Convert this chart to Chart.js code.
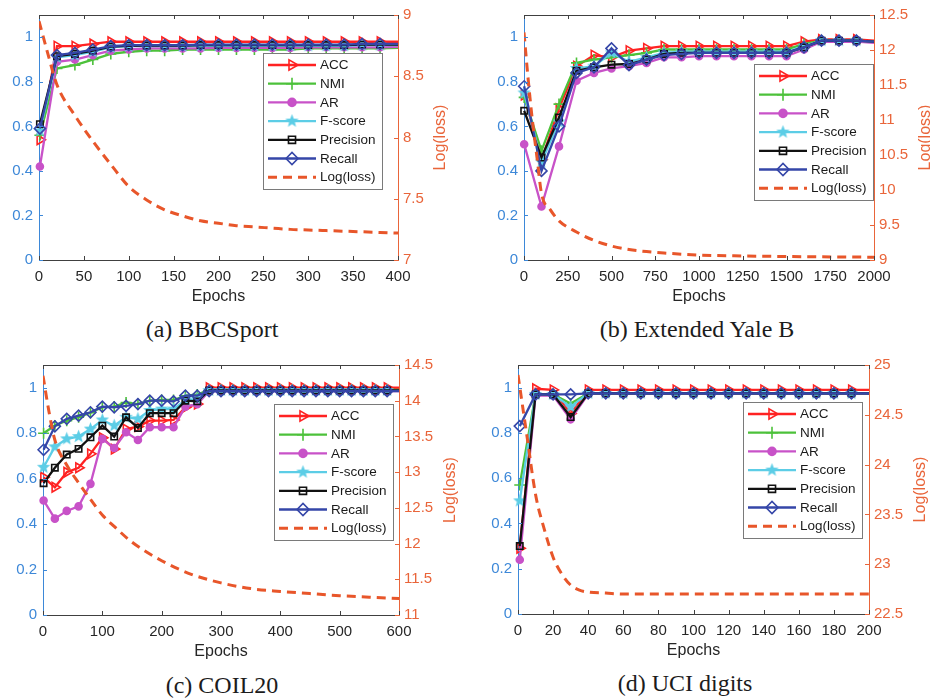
<!DOCTYPE html>
<html>
<head>
<meta charset="utf-8">
<script src="https://cdn.jsdelivr.net/npm/chart.js@4.4.1/dist/chart.umd.min.js"></script>
<style>
  html, body { margin: 0; padding: 0; background: #fff; }
  body { width: 930px; height: 700px; position: relative; overflow: hidden; }
  canvas { position: absolute; }
  .cap {
    position: absolute; white-space: nowrap; transform: translateX(-50%);
    font-family: "Liberation Serif", "Times New Roman", serif; font-size: 24px;
    line-height: 28px; color: #1c1c1c;
  }
</style>
</head>
<body>
<canvas id="chartA" width="465" height="312" style="left:0px;top:0px"></canvas>
<canvas id="chartB" width="465" height="312" style="left:465px;top:0px"></canvas>
<canvas id="chartC" width="465" height="312" style="left:0px;top:350px"></canvas>
<canvas id="chartD" width="465" height="312" style="left:465px;top:350px"></canvas>
<div class="cap" style="left:212px;top:315px">(a) BBCSport</div>
<div class="cap" style="left:697px;top:315px">(b) Extended Yale B</div>
<div class="cap" style="left:222px;top:671px">(c) COIL20</div>
<div class="cap" style="left:685px;top:669px">(d) UCI digits</div>
<script>
const seriesNames = ['ACC', 'NMI', 'AR', 'F-score', 'Precision', 'Recall'];
const lossName = 'Log(loss)';
const xTitle = 'Epochs';
const leftTicks = [0, 0.2, 0.4, 0.6, 0.8, 1];

// (a) BBCSport
const epochsA = [1, 20, 40, 60, 80, 100, 120, 140, 160, 180, 200, 220, 240, 260, 280, 300, 320, 340, 360, 380, 400];
const accA  = [0.54, 0.96, 0.96, 0.97, 0.98, 0.98, 0.98, 0.98, 0.98, 0.98, 0.98, 0.98, 0.98, 0.98, 0.98, 0.98, 0.98, 0.98, 0.98, 0.98, 0.98];
const nmiA  = [0.56, 0.86, 0.875, 0.9, 0.925, 0.935, 0.94, 0.94, 0.945, 0.945, 0.945, 0.945, 0.945, 0.945, 0.945, 0.95, 0.95, 0.95, 0.95, 0.95, 0.952];
const arA   = [0.42, 0.89, 0.9, 0.92, 0.94, 0.945, 0.95, 0.95, 0.95, 0.95, 0.952, 0.952, 0.952, 0.952, 0.952, 0.955, 0.955, 0.955, 0.955, 0.955, 0.957];
const fA    = [0.58, 0.91, 0.92, 0.935, 0.955, 0.96, 0.96, 0.96, 0.96, 0.962, 0.962, 0.962, 0.962, 0.962, 0.962, 0.962, 0.962, 0.962, 0.965, 0.965, 0.965];
const precA = [0.61, 0.915, 0.925, 0.94, 0.958, 0.962, 0.963, 0.963, 0.963, 0.965, 0.965, 0.965, 0.965, 0.965, 0.965, 0.965, 0.965, 0.965, 0.967, 0.967, 0.967];
const recA  = [0.59, 0.92, 0.93, 0.945, 0.96, 0.965, 0.965, 0.965, 0.965, 0.967, 0.967, 0.967, 0.967, 0.967, 0.967, 0.967, 0.967, 0.967, 0.97, 0.97, 0.97];
const lossEpochsA = [0, 10, 20, 40, 60, 80, 100, 120, 140, 160, 180, 200, 220, 240, 260, 280, 300, 320, 340, 360, 380, 400];
const lossA = [8.95, 8.68, 8.43, 8.18, 7.97, 7.78, 7.6, 7.49, 7.41, 7.36, 7.32, 7.3, 7.28, 7.27, 7.26, 7.25, 7.245, 7.24, 7.235, 7.23, 7.225, 7.22];
const xTicksA = [0, 50, 100, 150, 200, 250, 300, 350, 400];
const rightTicksA = [7, 7.5, 8, 8.5, 9];

// (b) Extended Yale B
const epochsB = [1, 100, 200, 300, 400, 500, 600, 700, 800, 900, 1000, 1100, 1200, 1300, 1400, 1500, 1600, 1700, 1800, 1900, 2000];
const accB  = [0.74, 0.45, 0.68, 0.87, 0.92, 0.91, 0.94, 0.95, 0.96, 0.96, 0.96, 0.96, 0.96, 0.96, 0.96, 0.96, 0.98, 0.99, 0.99, 0.99, 0.985];
const nmiB  = [0.73, 0.49, 0.7, 0.885, 0.9, 0.91, 0.92, 0.93, 0.945, 0.945, 0.945, 0.945, 0.945, 0.945, 0.945, 0.945, 0.97, 0.985, 0.985, 0.985, 0.98];
const arB   = [0.52, 0.24, 0.51, 0.805, 0.84, 0.86, 0.87, 0.885, 0.91, 0.91, 0.915, 0.915, 0.915, 0.915, 0.915, 0.915, 0.945, 0.98, 0.98, 0.98, 0.975];
const fB    = [0.75, 0.44, 0.62, 0.86, 0.87, 0.93, 0.89, 0.91, 0.93, 0.935, 0.935, 0.935, 0.935, 0.935, 0.935, 0.935, 0.96, 0.985, 0.985, 0.985, 0.98];
const precB = [0.67, 0.46, 0.64, 0.85, 0.865, 0.877, 0.88, 0.9, 0.925, 0.93, 0.93, 0.93, 0.93, 0.93, 0.93, 0.93, 0.955, 0.985, 0.985, 0.985, 0.98];
const recB  = [0.78, 0.4, 0.6, 0.84, 0.865, 0.95, 0.875, 0.9, 0.92, 0.925, 0.93, 0.93, 0.93, 0.93, 0.93, 0.93, 0.955, 0.985, 0.985, 0.985, 0.98];
const lossEpochsB = [0, 25, 50, 75, 100, 150, 200, 300, 400, 500, 600, 700, 800, 1000, 1200, 1500, 2000];
const lossB = [12.25, 11.55, 10.95, 10.45, 9.95, 9.72, 9.56, 9.4, 9.28, 9.2, 9.15, 9.12, 9.1, 9.07, 9.06, 9.05, 9.04];
const xTicksB = [0, 250, 500, 750, 1000, 1250, 1500, 1750, 2000];
const rightTicksB = [9, 9.5, 10, 10.5, 11, 11.5, 12, 12.5];

// (c) COIL20
const epochsC = [1, 20, 40, 60, 80, 100, 120, 140, 160, 180, 200, 220, 240, 260, 280, 300, 320, 340, 360, 380, 400, 420, 440, 460, 480, 500, 520, 540, 560, 580, 600];
const accC  = [0.606, 0.562, 0.628, 0.648, 0.709, 0.78, 0.73, 0.818, 0.829, 0.855, 0.855, 0.858, 0.914, 0.928, 1.0, 1.0, 1.0, 1.0, 1.0, 1.0, 1.0, 1.0, 1.0, 1.0, 1.0, 1.0, 1.0, 1.0, 1.0, 1.0, 1.0];
const nmiC  = [0.8, 0.834, 0.855, 0.87, 0.89, 0.914, 0.917, 0.935, 0.928, 0.943, 0.946, 0.946, 0.965, 0.97, 0.99, 0.99, 0.99, 0.99, 0.99, 0.99, 0.99, 0.99, 0.99, 0.99, 0.99, 0.99, 0.99, 0.99, 0.99, 0.99, 0.99];
const arC   = [0.504, 0.424, 0.458, 0.478, 0.577, 0.775, 0.735, 0.804, 0.77, 0.826, 0.826, 0.826, 0.917, 0.928, 0.985, 0.985, 0.985, 0.985, 0.985, 0.985, 0.985, 0.985, 0.985, 0.985, 0.985, 0.985, 0.985, 0.985, 0.985, 0.985, 0.985];
const fC    = [0.65, 0.74, 0.775, 0.785, 0.818, 0.858, 0.833, 0.87, 0.863, 0.9, 0.906, 0.906, 0.946, 0.95, 0.988, 0.988, 0.988, 0.988, 0.988, 0.988, 0.988, 0.988, 0.988, 0.988, 0.988, 0.988, 0.988, 0.988, 0.988, 0.988, 0.988];
const precC = [0.58, 0.648, 0.706, 0.731, 0.782, 0.833, 0.785, 0.87, 0.823, 0.888, 0.888, 0.888, 0.943, 0.94, 0.988, 0.988, 0.988, 0.988, 0.988, 0.988, 0.988, 0.988, 0.988, 0.988, 0.988, 0.988, 0.988, 0.988, 0.988, 0.988, 0.988];
const recC  = [0.727, 0.83, 0.863, 0.877, 0.892, 0.917, 0.914, 0.92, 0.928, 0.943, 0.943, 0.94, 0.965, 0.965, 0.985, 0.985, 0.985, 0.985, 0.985, 0.985, 0.985, 0.985, 0.985, 0.985, 0.985, 0.985, 0.985, 0.985, 0.985, 0.985, 0.985];
const lossEpochsC = [0, 10, 20, 40, 60, 80, 100, 120, 150, 200, 250, 300, 350, 400, 450, 500, 550, 600];
const lossC = [14.35, 13.85, 13.45, 13.1, 12.85, 12.62, 12.4, 12.24, 12.02, 11.76, 11.57, 11.45, 11.37, 11.33, 11.3, 11.27, 11.25, 11.23];
const xTicksC = [0, 100, 200, 300, 400, 500, 600];
const rightTicksC = [11, 11.5, 12, 12.5, 13, 13.5, 14, 14.5];

// (d) UCI digits
const epochsD = [1, 10, 20, 30, 40, 50, 60, 70, 80, 90, 100, 110, 120, 130, 140, 150, 160, 170, 180, 190, 200];
const accD  = [0.29, 0.995, 0.99, 0.885, 0.99, 0.99, 0.99, 0.99, 0.99, 0.99, 0.99, 0.99, 0.99, 0.99, 0.99, 0.99, 0.99, 0.99, 0.99, 0.99, 0.99];
const nmiD  = [0.57, 0.97, 0.97, 0.93, 0.975, 0.975, 0.975, 0.975, 0.975, 0.975, 0.975, 0.975, 0.975, 0.975, 0.975, 0.975, 0.975, 0.975, 0.975, 0.975, 0.975];
const arD   = [0.24, 0.965, 0.965, 0.86, 0.972, 0.972, 0.972, 0.972, 0.972, 0.972, 0.972, 0.972, 0.972, 0.972, 0.972, 0.972, 0.972, 0.972, 0.972, 0.972, 0.972];
const fD    = [0.5, 0.97, 0.97, 0.915, 0.975, 0.975, 0.975, 0.975, 0.975, 0.975, 0.975, 0.975, 0.975, 0.975, 0.975, 0.975, 0.975, 0.975, 0.975, 0.975, 0.975];
const precD = [0.3, 0.97, 0.97, 0.87, 0.975, 0.975, 0.975, 0.975, 0.975, 0.975, 0.975, 0.975, 0.975, 0.975, 0.975, 0.975, 0.975, 0.975, 0.975, 0.975, 0.975];
const recD  = [0.83, 0.97, 0.97, 0.97, 0.975, 0.975, 0.975, 0.975, 0.975, 0.975, 0.975, 0.975, 0.975, 0.975, 0.975, 0.975, 0.975, 0.975, 0.975, 0.975, 0.975];
const lossEpochsD = [0, 5, 10, 15, 20, 25, 30, 35, 40, 50, 60, 80, 100, 150, 200];
const lossD = [24.9, 24.3, 23.7, 23.35, 23.07, 22.9, 22.79, 22.74, 22.72, 22.71, 22.7, 22.7, 22.7, 22.7, 22.7];
const xTicksD = [0, 20, 40, 60, 80, 100, 120, 140, 160, 180, 200];
const rightTicksD = [22.5, 23, 23.5, 24, 24.5, 25];

// colours and fonts
const FONT = '"Liberation Sans", Arial, sans-serif';
const leftColor = '#3D88D8';
const rightColor = '#E9653A';
const lossColor = '#E8562A';
const frameColor = '#404040';

// filled five-point star for F-score
function makeStar(color) {
  const c = document.createElement('canvas');
  c.width = 15; c.height = 15;
  const g = c.getContext('2d');
  g.beginPath();
  for (let k = 0; k < 10; k++) {
    const r = k % 2 === 0 ? 7 : 3;
    const a = -Math.PI / 2 + k * Math.PI / 5;
    g.lineTo(7.5 + r * Math.cos(a), 7.5 + r * Math.sin(a));
  }
  g.closePath();
  g.fillStyle = color;
  g.fill();
  return c;
}

const styles = [
  { color: '#FF2222', point: 'triangle', rotation: 90, radius: 5.5, filled: false },
  { color: '#4CC13A', point: 'cross', rotation: 0, radius: 5.5, filled: false },
  { color: '#C852C8', point: 'circle', rotation: 0, radius: 3.5, filled: true },
  { color: '#5CCDE6', point: makeStar('#5CCDE6'), rotation: 0, radius: 7, filled: true },
  { color: '#111111', point: 'rect', rotation: 0, radius: 4.5, filled: false },
  { color: '#3546A8', point: 'rectRot', rotation: 0, radius: 5.5, filled: false }
];

// axis frame, inward ticks, titles and legend in the MATLAB look
const matlabAxes = {
  id: 'matlabAxes',
  afterDraw(chart, args, opts) {
    const { ctx, chartArea: a, scales } = chart;
    const seg = (x1, y1, x2, y2) => { ctx.beginPath(); ctx.moveTo(x1, y1); ctx.lineTo(x2, y2); ctx.stroke(); };
    ctx.save();
    ctx.lineWidth = 1;
    ctx.strokeStyle = frameColor;
    seg(a.left, a.top + 0.5, a.right, a.top + 0.5);
    scales.x.ticks.forEach(t => {
      const px = Math.round(scales.x.getPixelForValue(t.value)) + 0.5;
      seg(px, a.bottom, px, a.bottom - 4);
      seg(px, a.top, px, a.top + 4);
    });
    ctx.strokeStyle = leftColor;
    scales.y.ticks.forEach(t => {
      const py = Math.round(scales.y.getPixelForValue(t.value)) + 0.5;
      seg(a.left, py, a.left + 4, py);
    });
    ctx.strokeStyle = rightColor;
    scales.y2.ticks.forEach(t => {
      const py = Math.round(scales.y2.getPixelForValue(t.value)) + 0.5;
      seg(a.right, py, a.right - 4, py);
    });

    // x title
    ctx.fillStyle = '#262626';
    ctx.font = '16px ' + FONT;
    ctx.textAlign = 'center';
    ctx.textBaseline = 'middle';
    ctx.fillText(xTitle, (a.left + a.right) / 2, a.bottom + 37);

    // right title, reading bottom to top
    ctx.font = '15px ' + FONT;
    let maxW = 0;
    scales.y2.ticks.forEach(t => { maxW = Math.max(maxW, ctx.measureText(String(t.value)).width); });
    ctx.save();
    ctx.translate(a.right + 5 + maxW + 17, (a.top + a.bottom) / 2);
    ctx.rotate(-Math.PI / 2);
    ctx.fillStyle = rightColor;
    ctx.font = '16px ' + FONT;
    ctx.fillText(lossName, 0, 0);
    ctx.restore();

    // legend box
    const W = 119, H = 136;
    const bx = Math.round(a.right - opts.right - W);
    const by = Math.round(a.top + opts.top);
    ctx.fillStyle = '#ffffff';
    ctx.fillRect(bx, by, W, H);
    ctx.strokeStyle = '#7a7a7a';
    ctx.strokeRect(bx + 0.5, by + 0.5, W, H);
    chart.data.datasets.forEach((ds, i) => {
      const y = by + 12 + i * 18.7;
      ctx.strokeStyle = ds.borderColor;
      ctx.lineWidth = ds.borderWidth;
      ctx.setLineDash(ds.borderDash || []);
      seg(bx + 5, y, bx + 53, y);
      ctx.setLineDash([]);
      if (ds.legendRadius) {
        ctx.fillStyle = ds.pointBackgroundColor;
        ctx.strokeStyle = ds.pointBorderColor;
        ctx.lineWidth = ds.pointBorderWidth;
        Chart.helpers.drawPoint(ctx, {
          pointStyle: ds.pointStyle, rotation: ds.pointRotation,
          radius: ds.legendRadius, borderWidth: ds.pointBorderWidth
        }, bx + 29, y);
      }
      ctx.fillStyle = '#1a1a1a';
      ctx.font = '13.5px ' + FONT;
      ctx.textAlign = 'left';
      ctx.textBaseline = 'middle';
      ctx.fillText(ds.label, bx + 57, y + 0.5);
    });
    ctx.restore();
  }
};

function makeChart(id, epochs, series, lossEpochs, loss, xTicks, rightTicks, box, legendPos) {
  const last = epochs.length - 1;
  const datasets = series.map((vals, i) => {
    const s = styles[i];
    return {
      label: seriesNames[i],
      data: epochs.map((x, j) => ({ x: x, y: vals[j] })),
      yAxisID: 'y',
      borderColor: s.color,
      borderWidth: 2.3,
      backgroundColor: s.color,
      pointStyle: s.point,
      pointRotation: s.rotation,
      pointRadius: c => (c.dataIndex === last ? 0 : s.radius),
      legendRadius: s.radius + 0.5,
      pointBorderWidth: 1.6,
      pointBorderColor: s.color,
      pointBackgroundColor: s.filled ? s.color : 'rgba(0,0,0,0)',
      order: 6 - i,
      clip: false
    };
  });
  datasets.push({
    label: lossName,
    data: lossEpochs.map((x, j) => ({ x: x, y: loss[j] })),
    yAxisID: 'y2',
    borderColor: lossColor,
    borderWidth: 3,
    borderDash: [9, 6],
    pointRadius: 0,
    cubicInterpolationMode: 'monotone',
    order: 0
  });

  const tickFont = { family: FONT, size: 15 };
  return new Chart(document.getElementById(id), {
    type: 'line',
    data: { datasets: datasets },
    options: {
      responsive: false,
      animation: false,
      devicePixelRatio: 1,
      events: [],
      layout: { padding: { top: box.top, left: 0, right: 0, bottom: 0 } },
      plugins: {
        legend: { display: false },
        tooltip: { enabled: false },
        matlabAxes: legendPos
      },
      scales: {
        x: {
          type: 'linear', min: 0, max: xTicks[xTicks.length - 1],
          afterBuildTicks: sc => { sc.ticks = xTicks.map(v => ({ value: v })); },
          afterFit: sc => { sc.height = box.xHeight; },
          grid: { display: false, drawTicks: false },
          border: { color: frameColor, width: 1 },
          ticks: { color: '#262626', font: tickFont, padding: 8, autoSkip: false, maxRotation: 0,
                   callback: v => String(v) }
        },
        y: {
          position: 'left', min: 0, max: 1.1,
          afterBuildTicks: sc => { sc.ticks = leftTicks.map(v => ({ value: v })); },
          afterFit: sc => { sc.width = box.left; },
          grid: { display: false, drawTicks: false },
          border: { color: leftColor, width: 1 },
          ticks: { color: leftColor, font: tickFont, padding: 6, callback: v => String(v) }
        },
        y2: {
          position: 'right', min: rightTicks[0], max: rightTicks[rightTicks.length - 1],
          afterBuildTicks: sc => { sc.ticks = rightTicks.map(v => ({ value: v })); },
          afterFit: sc => { sc.width = box.right; },
          grid: { display: false, drawTicks: false },
          border: { color: rightColor, width: 1 },
          ticks: { color: rightColor, font: tickFont, padding: 5, callback: v => String(v) }
        }
      }
    },
    plugins: [matlabAxes]
  });
}

makeChart('chartA', epochsA, [accA, nmiA, arA, fA, precA, recA], lossEpochsA, lossA, xTicksA, rightTicksA,
  { left: 39, right: 67, top: 13, xHeight: 52 }, { right: 16, top: 38 });
makeChart('chartB', epochsB, [accB, nmiB, arB, fB, precB, recB], lossEpochsB, lossB, xTicksB, rightTicksB,
  { left: 59, right: 56, top: 13, xHeight: 52 }, { right: 1, top: 49 });
makeChart('chartC', epochsC, [accC, nmiC, arC, fC, precC, recC], lossEpochsC, lossC, xTicksC, rightTicksC,
  { left: 43, right: 66, top: 14, xHeight: 47 }, { right: 6, top: 39 });
makeChart('chartD', epochsD, [accD, nmiD, arD, fD, precD, recD], lossEpochsD, lossD, xTicksD, rightTicksD,
  { left: 53, right: 61, top: 14, xHeight: 48 }, { right: 7, top: 37 });
</script>
</body>
</html>
